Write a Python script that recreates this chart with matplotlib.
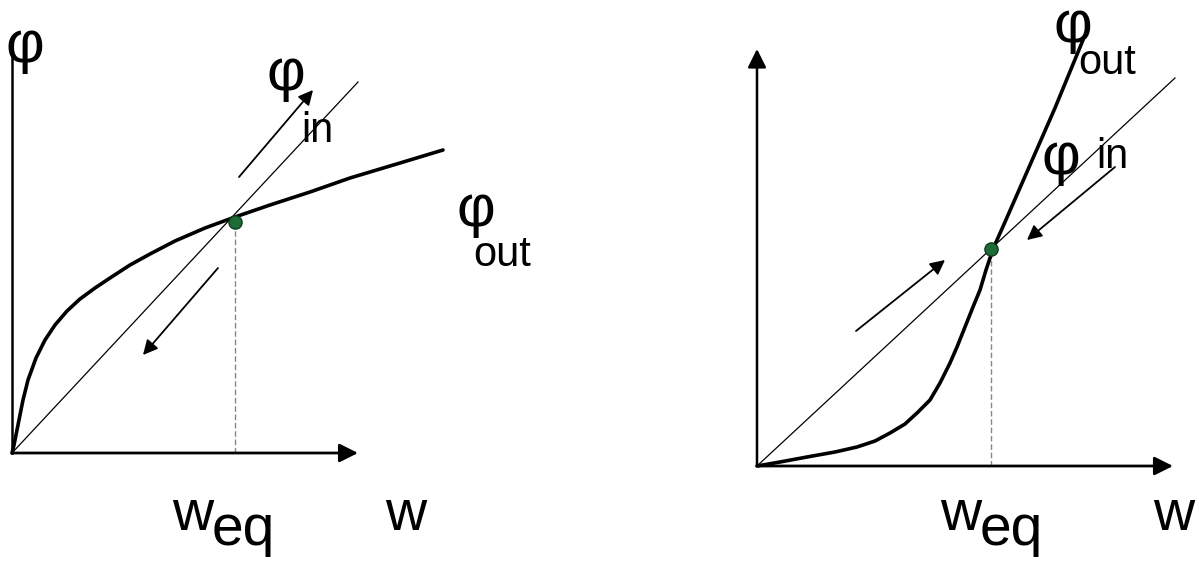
import numpy as np
import matplotlib.pyplot as plt

plt.rcParams['font.family'] = ['Liberation Sans', 'DejaVu Sans']

# painel esquerdo: phi_out concava (equilibrio estavel)
left_x = [0, 2, 4, 7, 11, 16, 24, 33, 43, 55, 68, 83, 98, 118, 138, 163, 193, 223, 258, 298, 338, 388, 431]
left_y = [0, 8, 18, 33, 53, 73, 95, 113, 128, 142, 154, 165, 175, 188, 199, 212, 225, 236, 248, 261, 275, 290, 303]
left_diag = ([0, 346], [0, 371])
left_eq = (223, 231)
left_arrows = [((227, 276), (301, 363)), ((206, 185), (131, 98))]
left_axis_len = (346, 403)

# painel direito: phi_out convexa (equilibrio instavel)
right_x = [0, 23, 50, 78, 100, 118, 133, 148, 160, 173, 183, 193, 200, 208, 216, 223, 229, 236, 248, 273, 298, 326]
right_y = [0, 4, 9, 14, 19, 25, 33, 42, 53, 66, 83, 103, 119, 139, 159, 176, 196, 217, 244, 301, 358, 426]
right_diag = ([0, 418], [0, 388])
right_eq = (234, 217)
right_arrows = [((99, 135), (188, 206)), ((358, 299), (270, 226))]
right_axis_len = (416, 417)

fig = plt.figure(figsize=(11.97, 5.64), dpi=100)
axL = fig.add_axes([0, 0, 598 / 1197, 1])
axR = fig.add_axes([598 / 1197, 0, 599 / 1197, 1])
axL.set_xlim(-12, 586)
axL.set_ylim(-111, 453)
axR.set_xlim(-159, 440)
axR.set_ylim(-98, 466)

FS_PHI = 43
FS_SUB = 30
FS_W = 41


def panel(ax, cx, cy, diag, eq, arrows, axlen, y_arrow):
    # eixos
    ax.annotate('', xy=(axlen[0], 0), xytext=(0, 0),
                arrowprops=dict(arrowstyle='-|>', color='black', lw=2.0, mutation_scale=28,
                                shrinkA=0, shrinkB=0))
    if y_arrow:
        ax.annotate('', xy=(0, axlen[1]), xytext=(0, 0),
                    arrowprops=dict(arrowstyle='-|>', color='black', lw=1.8, mutation_scale=28,
                                    shrinkA=0, shrinkB=0))
    else:
        ax.plot([0, 0], [0, axlen[1]], color='black', lw=1.8)
    # linha tracejada ate o equilibrio
    ax.plot([eq[0], eq[0]], [0, eq[1]], color='#888888', lw=1.0, ls=(0, (4, 2)))
    # phi_in (reta) e phi_out (curva)
    ax.plot(diag[0], diag[1], color='black', lw=0.9)
    ax.plot(cx, cy, color='black', lw=2.6, solid_capstyle='round', solid_joinstyle='round')
    ax.plot(eq[0], eq[1], 'o', color='#1d6b35', markersize=9.5, markeredgecolor='#0f3d1c')
    for tail, head in arrows:
        ax.annotate('', xy=head, xytext=tail,
                    arrowprops=dict(arrowstyle='-|>', color='black', lw=1.3, mutation_scale=22,
                                    shrinkA=0, shrinkB=0))
    ax.axis('off')


panel(axL, left_x, left_y, left_diag, left_eq, left_arrows, left_axis_len, False)
panel(axR, right_x, right_y, right_diag, right_eq, right_arrows, right_axis_len, True)

# textos painel esquerdo
axL.text(13, 406, 'φ', fontsize=FS_PHI, ha='center', va='center')
axL.text(274, 378, 'φ', fontsize=FS_PHI, ha='center', va='center')
axL.text(305, 322, 'in', fontsize=FS_SUB, ha='center', va='center')
axL.text(464, 242, 'φ', fontsize=FS_PHI, ha='center', va='center')
axL.text(490, 198, 'out', fontsize=FS_SUB, ha='center', va='center')
axL.text(160, -77, 'w', fontsize=FS_W, ha='left', va='baseline')
axL.text(200, -92, 'eq', fontsize=FS_W, ha='left', va='baseline')
axL.text(373, -77, 'w', fontsize=FS_W, ha='left', va='baseline')

# textos painel direito
axR.text(316, 440, 'φ', fontsize=FS_PHI, ha='center', va='center')
axR.text(350, 403, 'out', fontsize=FS_SUB, ha='center', va='center')
axR.text(304, 308, 'φ', fontsize=FS_PHI, ha='center', va='center')
axR.text(355, 309, 'in', fontsize=FS_SUB, ha='center', va='center')
axR.text(183, -64, 'w', fontsize=FS_W, ha='left', va='baseline')
axR.text(223, -79, 'eq', fontsize=FS_W, ha='left', va='baseline')
axR.text(396, -64, 'w', fontsize=FS_W, ha='left', va='baseline')

fig.savefig('out.png', dpi=100, facecolor='white')
